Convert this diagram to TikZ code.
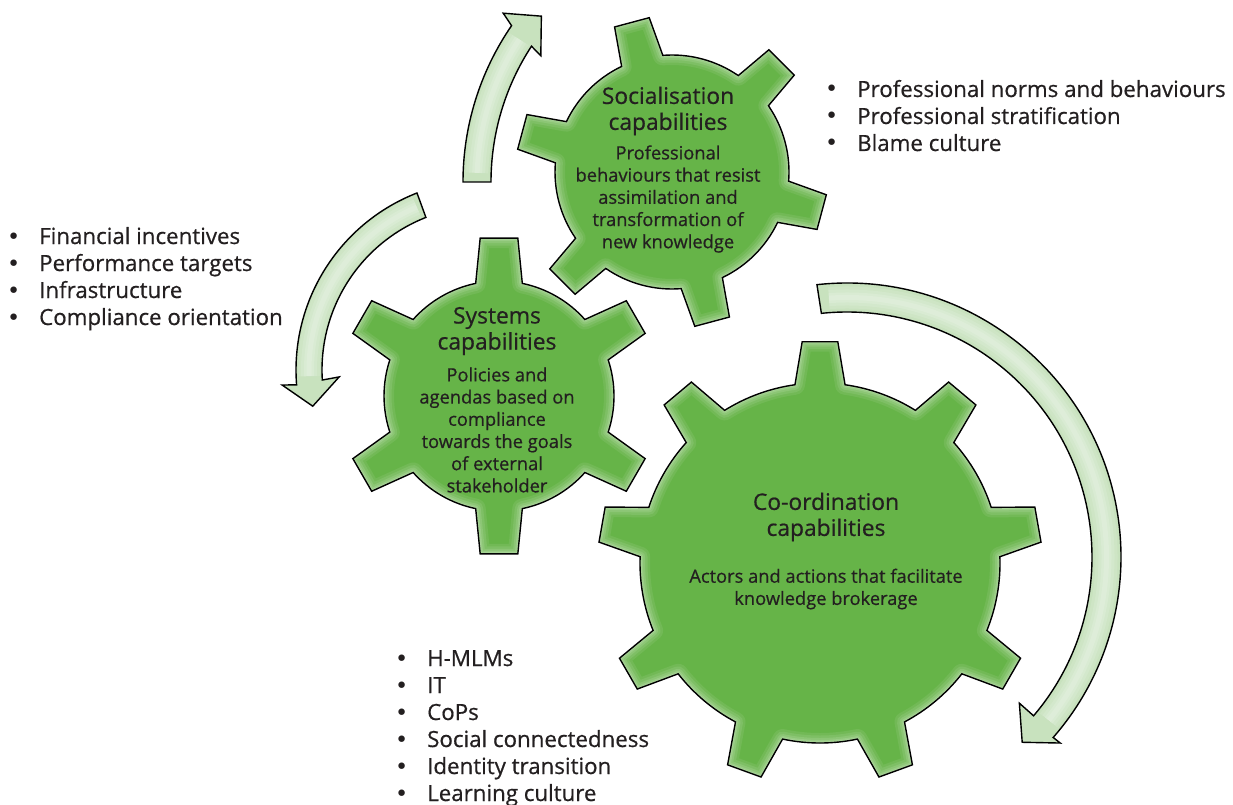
\documentclass[tikz,border=0pt]{standalone}
\usepackage{fontspec}
\setmainfont{Open Sans}[FakeBold=0.6]
\newfontfamily\dejavu{DejaVu Sans}
\definecolor{gearGreen}{RGB}{102,180,72}
\definecolor{arrowGreen}{RGB}{200,226,190}
\definecolor{txt}{RGB}{35,31,32}
% gear outline: n, body radius, tip radius, first tooth angle, half base angle, half tip angle
\def\gp#1#2#3#4#5#6{({#4-#5}:#2) \foreach \k [evaluate=\k as \a using {#4+(\k-1)*360/#1}] in {1,...,#1} { -- ({\a-#6}:#3) -- ({\a+#6}:#3) -- ({\a+#5}:#2) arc[start angle={\a+#5}, end angle={\a+360/#1-#5}, radius=#2] } -- cycle}
\newcommand\drawgear[8]{%
 \begin{scope}[shift={(#1,#2)}]
  \begin{scope}
   \clip \gp{#3}{#4}{#5}{#6}{#7}{#8};
   \fill[gearGreen] \gp{#3}{#4}{#5}{#6}{#7}{#8};
   \foreach \w/\o in {20/.08,15/.09,10/.11,6/.13,3/.16}{
     \draw[white, opacity=\o, line width=\w pt, line join=round] \gp{#3}{#4}{#5}{#6}{#7}{#8};}
  \end{scope}
  \draw[black, line width=1.4pt] \gp{#3}{#4}{#5}{#6}{#7}{#8};
 \end{scope}}
\def\arrA{(180:276) arc[start angle=180,end angle=214.5,radius=276] -- (215.6:290) -- (220:258) -- (212.5:235) -- (213.2:248) arc[start angle=213.2,end angle=180,radius=248] -- cycle}
\def\arrB{(248.7:190) arc[start angle=248.7,end angle=175.5,radius=190] -- (175.8:204.5) -- (168.2:177) -- (177.3:147) -- (176.5:164) arc[start angle=176.5,end angle=248.5,radius=164] -- cycle}
\def\arrC{(-96.3:274) arc[start angle=-96.3,end angle=41.2,radius=274] -- (41.1:283) -- (46.6:255) -- (40.3:226) -- (40.4:245) arc[start angle=40.4,end angle=-96,radius=245] -- cycle}
\newcommand\drawarrow[6]{% cx cy path midradius a1 a2
 \begin{scope}[shift={(#1,#2)}]
  \begin{scope}
   \clip #3;
   \fill[arrowGreen] #3;
   \foreach \w/\o in {22/.12,16/.12,10/.14,5/.14}{
     \draw[white, opacity=\o, line width=\w pt] (#5:#4) arc[start angle=#5, end angle=#6, radius=#4];}
  \end{scope}
  \draw[black, line width=1.4pt] #3;
 \end{scope}}
\newcommand\bul{\makebox[32pt][l]{\dejavu •}}
\tikzset{
 gtitle/.style={font=\fontsize{22.8}{26}\selectfont, align=center, text=txt, inner sep=0pt},
 gdesc/.style={font=\fontsize{18.3}{22.2}\selectfont, align=center, text=txt, inner sep=0pt},
 lst/.style={font=\fontsize{22.3}{27}\selectfont, text=txt, inner sep=0pt, anchor=base west}
}
\begin{document}
\begin{tikzpicture}[x=1pt,y=-1pt]
\fill[white] (0,0) rectangle (1233,805);
\useasboundingbox (0,0) rectangle (1233,805);
% arrows
\drawarrow{739}{182}{\arrA}{262}{182}{213}
\drawarrow{486}{370}{\arrB}{177}{247}{178}
\drawarrow{847}{557}{\arrC}{259.5}{-94}{39}
% gears
\drawgear{672}{172}{6}{117}{156}{-105}{10.5}{6.6}
\drawgear{499}{396}{6}{115}{159}{-90}{11.7}{6.8}
\drawgear{820}{563}{9}{180}{222}{-90}{8}{4.6}
% gear texts
\node[gtitle] (socT) at (668,111) {Socialisation\\capabilities};
\node[gdesc] (socD) at (668,199) {Professional\\behaviours that resist\\assimilation and\\transformation of\\new knowledge};
\node[gtitle] (sysT) at (497,331) {Systems\\capabilities};
\node[gdesc] (sysD) at (497,430) {Policies and\\agendas based on\\compliance\\towards the goals\\of external\\stakeholder};
\node[gtitle] (coT) at (826,517) {Co-ordination\\capabilities};
\node[gdesc] (coD) at (826,589) {Actors and actions that facilitate\\knowledge brokerage};
% lists
\node[lst] (socL) at (825,97) {\begin{tabular}[t]{@{}l@{}}\bul Professional norms and behaviours\\ \bul Professional stratification\\ \bul Blame culture\end{tabular}};
\node[lst] (sysL) at (7,244) {\begin{tabular}[t]{@{}l@{}}\bul Financial incentives\\ \bul Performance targets\\ \bul Infrastructure\\ \bul Compliance orientation\end{tabular}};
\node[lst] (coL) at (395,666) {\begin{tabular}[t]{@{}l@{}}\bul H-MLMs\\ \bul IT\\ \bul CoPs\\ \bul Social connectedness\\ \bul Identity transition\\ \bul Learning culture\end{tabular}};
\end{tikzpicture}
\end{document}
